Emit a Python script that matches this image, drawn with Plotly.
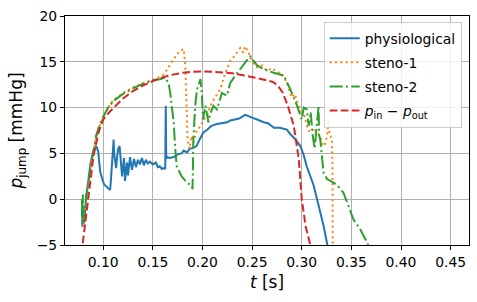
import plotly.graph_objects as go

# physiological (blue)
t_phys = [0.0785, 0.0790, 0.0800, 0.0810, 0.0820, 0.0830, 0.0850, 0.0870, 0.0890, 0.0910,
          0.0930, 0.0950, 0.0960, 0.0970, 0.0990, 0.1010, 0.1030, 0.1050, 0.1070, 0.1080,
          0.1090, 0.1100, 0.1105, 0.1110, 0.1120, 0.1130, 0.1140, 0.1150, 0.1165, 0.1180,
          0.1190, 0.1210, 0.1220, 0.1240, 0.1250, 0.1270, 0.1290, 0.1310, 0.1330, 0.1350,
          0.1370, 0.1390, 0.1410, 0.1430, 0.1450, 0.1470, 0.1500, 0.1530, 0.1550, 0.1570,
          0.1590, 0.1610, 0.1625, 0.1630, 0.1635, 0.1645, 0.1670, 0.1710, 0.1750, 0.1790,
          0.1810, 0.1844, 0.1870, 0.1910, 0.1940, 0.1970, 0.2010, 0.2050, 0.2090, 0.2146,
          0.2200, 0.2250, 0.2280, 0.2320, 0.2370, 0.2430, 0.2450, 0.2500, 0.2550, 0.2616,
          0.2660, 0.2720, 0.2780, 0.2850, 0.2885, 0.2930, 0.2986, 0.3020, 0.3050, 0.3090,
          0.3120, 0.3170, 0.3220, 0.3260, 0.3275]
p_phys = [-1.0, -3.0, -2.0, -2.5, -1.0, 0.5, 2.0, 3.8, 4.8, 5.5,
          5.8, 5.2, 4.0, 3.0, 2.2, 1.6, 1.4, 1.2, 1.0, 2.5,
          4.0, 5.5, 6.5, 5.0, 4.0, 3.4, 4.6, 5.5, 5.8, 3.5,
          2.5, 4.5, 2.0, 4.0, 2.6, 4.6, 3.2, 4.4, 3.5, 4.3,
          3.8, 4.5, 3.7, 4.3, 3.9, 4.1, 3.8, 4.0, 3.5, 3.6,
          3.3, 3.4, 3.3, 10.2, 4.4, 4.6, 4.5, 4.6, 4.9, 5.0,
          5.3, 5.1, 5.5, 5.6, 5.8, 6.5, 7.3, 7.6, 8.0, 8.2,
          8.3, 8.4, 8.6, 8.7, 8.8, 9.2, 9.1, 8.9, 8.7, 8.4,
          8.3, 7.8, 7.8, 7.6, 7.1, 6.6, 5.8, 4.8, 3.6, 2.5,
          1.5, -0.7, -2.9, -5.1, -6.0]

# steno-1 (orange)
t_st1 = [0.0785, 0.0800, 0.0820, 0.0850, 0.0880, 0.0910, 0.0950, 0.1000, 0.1050, 0.1100,
         0.1200, 0.1300, 0.1400, 0.1470, 0.1540, 0.1610, 0.1675, 0.1740, 0.1780, 0.1810,
         0.1827, 0.1837, 0.1850, 0.1870, 0.1890, 0.1910, 0.1945, 0.1980, 0.2010, 0.2050,
         0.2080, 0.2120, 0.2180, 0.2220, 0.2280, 0.2320, 0.2350, 0.2380, 0.2410, 0.2430,
         0.2465, 0.2500, 0.2550, 0.2600, 0.2650, 0.2700, 0.2750, 0.2800, 0.2850, 0.2900,
         0.2930, 0.2960, 0.3000, 0.3030, 0.3060, 0.3090, 0.3120, 0.3150, 0.3180, 0.3210,
         0.3230, 0.3255, 0.3270, 0.3280, 0.3290, 0.3305, 0.3310, 0.3312]
p_st1 = [-2.0, -3.0, -1.0, 1.8, 4.0, 5.8, 7.6, 9.0, 10.0, 10.8,
         11.6, 12.2, 12.6, 12.9, 13.2, 13.6, 14.7, 15.8, 16.2, 16.4,
         14.6, 10.2, 6.5, 5.5, 6.9, 6.2, 7.6, 7.9, 8.7, 9.2,
         10.2, 11.0, 12.0, 13.5, 15.1, 15.6, 16.0, 16.5, 16.0, 16.7,
         16.0, 15.0, 14.4, 14.6, 14.0, 14.3, 13.9, 13.7, 12.7, 11.1,
         11.5, 10.4, 9.5, 9.0, 7.6, 7.3, 7.8, 7.3, 7.0, 6.0,
         5.8, 6.9, 8.7, 7.0, 6.9, 6.5, 2.9, -6.0]

# steno-2 (green)
t_st2 = [0.0785, 0.0790, 0.0795, 0.0800, 0.0810, 0.0820, 0.0840, 0.0860, 0.0880, 0.0900,
         0.0930, 0.0960, 0.1000, 0.1050, 0.1100, 0.1200, 0.1300, 0.1400, 0.1500, 0.1570,
         0.1625, 0.1660, 0.1675, 0.1710, 0.1726, 0.1740, 0.1790, 0.1844, 0.1890, 0.1900,
         0.1908, 0.1927, 0.1945, 0.1960, 0.1980, 0.1995, 0.2005, 0.2030, 0.2060, 0.2077,
         0.2110, 0.2146, 0.2196, 0.2247, 0.2280, 0.2330, 0.2398, 0.2465, 0.2480, 0.2550,
         0.2616, 0.2717, 0.2820, 0.2885, 0.2953, 0.3000, 0.3020, 0.3050, 0.3070, 0.3090,
         0.3110, 0.3130, 0.3150, 0.3170, 0.3175, 0.3187, 0.3200, 0.3220, 0.3255, 0.3290,
         0.3320, 0.3360, 0.3420, 0.3470, 0.3520, 0.3590, 0.3658, 0.3700]
p_st2 = [0.0, -1.5, 0.5, -2.9, -1.5, -0.5, 1.0, 2.5, 4.0, 5.2,
         7.0, 8.0, 9.0, 10.0, 10.7, 11.5, 12.1, 12.6, 13.0, 13.1,
         13.3, 12.6, 11.6, 8.4, 5.5, 3.6, 2.5, 1.8, 1.5, 1.1,
         6.5, 10.2, 12.0, 12.4, 13.1, 11.3, 8.7, 10.2, 8.4, 9.3,
         10.2, 9.8, 11.6, 11.3, 12.7, 13.5, 14.4, 15.3, 15.6, 14.6,
         14.2, 13.8, 13.5, 12.0, 10.2, 8.7, 10.0, 9.8, 8.0, 9.5,
         7.0, 5.5, 8.0, 10.2, 7.0, 6.5, 5.0, 2.9, 2.2, 2.0,
         1.8, 1.5, 0.7, -0.7, -2.2, -3.3, -4.7, -6.0]

# p_in - p_out (red)
t_diff = [0.0790, 0.0795, 0.0836, 0.0870, 0.0902, 0.0953, 0.1000, 0.1070, 0.1140, 0.1200,
          0.1300, 0.1400, 0.1500, 0.1600, 0.1700, 0.1800, 0.1900, 0.2000, 0.2100, 0.2200,
          0.2300, 0.2400, 0.2500, 0.2600, 0.2710, 0.2760, 0.2810, 0.2860, 0.2920, 0.2970,
          0.3000, 0.3040, 0.3080, 0.3090]
p_diff = [-6.0, -4.7, -1.1, 1.9, 4.7, 7.3, 8.7, 9.6, 10.4, 11.0,
          11.8, 12.4, 12.9, 13.3, 13.6, 13.8, 13.9, 13.95, 13.9, 13.85,
          13.75, 13.55, 13.35, 13.1, 12.8, 12.4, 11.6, 10.2, 8.0, 4.4,
          0.0, -3.0, -4.7, -6.0]

x_ticks = [0.10, 0.15, 0.20, 0.25, 0.30, 0.35, 0.40, 0.45]
x_tick_labels = ["0.10", "0.15", "0.20", "0.25", "0.30", "0.35", "0.40", "0.45"]
y_ticks = [-5, 0, 5, 10, 15, 20]

fig = go.Figure()
fig.add_trace(go.Scatter(x=t_phys, y=p_phys, mode="lines", name="physiological",
                         legendgroup="a",
                         line=dict(color="#1f77b4", width=2)))
fig.add_trace(go.Scatter(x=t_st1, y=p_st1, mode="lines", name="steno-1",
                         legendgroup="b",
                         line=dict(color="#ff7f0e", width=2, dash="2px,3.3px")))
fig.add_trace(go.Scatter(x=t_st2, y=p_st2, mode="lines", name="steno-2",
                         legendgroup="c",
                         line=dict(color="#2ca02c", width=2, dash="13px,3.3px,2px,3.3px")))
fig.add_trace(go.Scatter(x=t_diff, y=p_diff, mode="lines",
                         name="<i>p</i><sub>in</sub> − <i>p</i><sub>out</sub>",
                         legendgroup="d",
                         line=dict(color="#d62728", width=2, dash="7.7px,3.3px")))

axis_common = dict(showline=True, mirror=True, linecolor="black", linewidth=1,
                   ticks="outside", ticklen=4, tickwidth=1, tickcolor="black",
                   showgrid=True, gridcolor="#b0b0b0", gridwidth=1, zeroline=False,
                   automargin=False, tickfont=dict(size=13.9))

fig.update_layout(
    width=477, height=302,
    margin=dict(l=65, r=8, t=16, b=57),
    paper_bgcolor="white", plot_bgcolor="white",
    font=dict(family="DejaVu Sans", size=13.9, color="black"),
    xaxis=dict(range=[0.0615, 0.4685], tickvals=x_ticks, ticktext=x_tick_labels,
               title=dict(text="<i>t</i> [s]", standoff=7), **axis_common),
    yaxis=dict(range=[-5, 20], tickvals=y_ticks,
               title=dict(text="<i>p</i><sub>jump</sub> [mmHg]", standoff=9), **axis_common),
    legend=dict(x=0.982, y=0.975, xanchor="right", yanchor="top",
                bgcolor="rgba(255,255,255,0.8)", bordercolor="#cccccc", borderwidth=1,
                font=dict(size=13.9), tracegroupgap=3, itemwidth=30),
    showlegend=True,
)

fig.write_html("out.html", config={"displayModeBar": False},
               post_script="document.body.style.margin='0';document.body.style.overflow='hidden';")
